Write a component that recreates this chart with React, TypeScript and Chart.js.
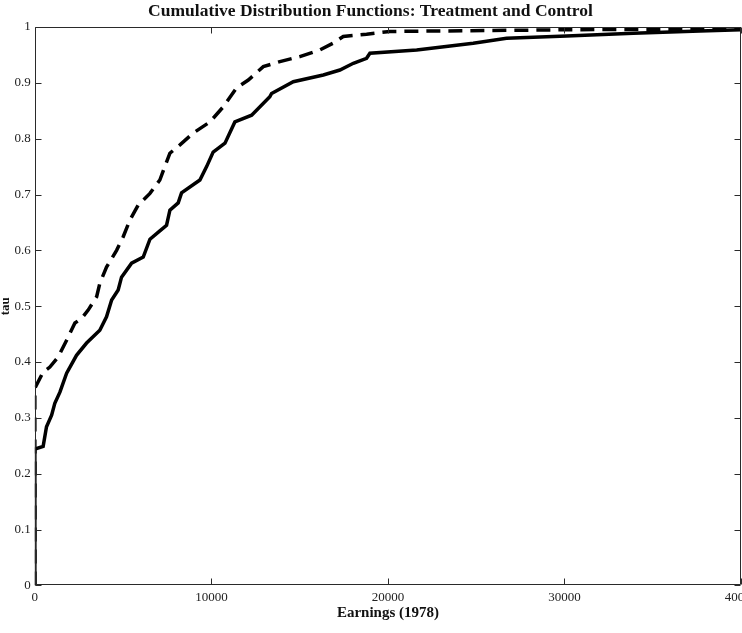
import { useEffect, useRef } from 'react';
import { Chart, registerables } from 'chart.js';

Chart.register(...registerables);

const SERIF = '"Liberation Serif", "Times New Roman", Times, serif';

const TITLE = 'Cumulative Distribution Functions: Treatment and Control';
const X_LABEL = 'Earnings (1978)';
const Y_LABEL = 'tau';

const xTickValues = [0, 10000, 20000, 30000, 40000];
const yTickValues = [0, 0.1, 0.2, 0.3, 0.4, 0.5, 0.6, 0.7, 0.8, 0.9, 1];

// Empirical CDF of 1978 earnings, treatment group (solid line)
const treatmentEarnings = [
  0, 0, 470, 660, 950, 1130, 1420, 1800, 2360, 2930, 3680, 4060, 4350, 4720, 4910,
  5480, 6140, 6520, 7080, 7460, 7650, 8120, 8310, 9350, 9730, 10100, 10770, 11330,
  12280, 13310, 13410, 14640, 16340, 17280, 18040, 18790, 18980, 21630, 24830,
  26720, 30120, 33900, 37680, 40000,
];
const treatmentTau = [
  0, 0.244, 0.249, 0.284, 0.305, 0.326, 0.346, 0.38, 0.412, 0.434, 0.457, 0.481,
  0.511, 0.529, 0.552, 0.577, 0.588, 0.62, 0.635, 0.645, 0.672, 0.685, 0.703, 0.726,
  0.75, 0.776, 0.792, 0.83, 0.842, 0.875, 0.881, 0.902, 0.914, 0.923, 0.935, 0.944,
  0.953, 0.959, 0.971, 0.98, 0.984, 0.989, 0.993, 0.995,
];

// Empirical CDF of 1978 earnings, control group (dashed line)
const controlEarnings = [
  0, 0, 470, 850, 1320, 1800, 2270, 2650, 3020, 3500, 3680, 4060, 4630, 5000, 5380,
  5850, 6520, 7080, 7650, 8220, 8970, 9920, 10670, 11430, 12090, 12940, 13880,
  15010, 16150, 16900, 17470, 18790, 20110, 30120, 40000,
];
const controlTau = [
  0, 0.353, 0.382, 0.391, 0.409, 0.439, 0.47, 0.478, 0.493, 0.517, 0.541, 0.57, 0.6,
  0.624, 0.654, 0.681, 0.702, 0.726, 0.774, 0.789, 0.81, 0.83, 0.857, 0.891, 0.905,
  0.929, 0.938, 0.947, 0.959, 0.971, 0.983, 0.987, 0.992, 0.995, 0.997,
];

const toPoints = (xs: number[], ys: number[]) => xs.map((x, i) => ({ x, y: ys[i] }));

// Box frame with short inward tick marks on all four sides
const boxTicks = {
  id: 'boxTicks',
  afterDatasetsDraw(chart: any) {
    const { ctx, chartArea: a, scales } = chart;
    const len = 6;
    const l = Math.round(a.left) + 0.5;
    const r = Math.round(a.right) - 0.5;
    const t = Math.round(a.top) + 0.5;
    const b = Math.round(a.bottom) - 0.5;
    ctx.save();
    ctx.strokeStyle = '#2a2a2a';
    ctx.lineWidth = 1;
    ctx.beginPath();
    ctx.rect(l, t, r - l, b - t);
    for (const tick of scales.x.ticks) {
      const px = Math.round(scales.x.getPixelForValue(tick.value)) + 0.5;
      ctx.moveTo(px, b);
      ctx.lineTo(px, b - len);
      ctx.moveTo(px, t);
      ctx.lineTo(px, t + len);
    }
    for (const tick of scales.y.ticks) {
      const py = Math.round(scales.y.getPixelForValue(tick.value)) + 0.5;
      ctx.moveTo(l, py);
      ctx.lineTo(l + len, py);
      ctx.moveTo(r, py);
      ctx.lineTo(r - len, py);
    }
    ctx.stroke();
    ctx.restore();
  },
};

export default function App() {
  const canvasRef = useRef<HTMLCanvasElement | null>(null);

  useEffect(() => {
    const canvas = canvasRef.current;
    if (!canvas) return;
    const chart = new Chart(canvas, {
      type: 'line',
      data: {
        datasets: [
          {
            label: 'Treatment',
            data: toPoints(treatmentEarnings, treatmentTau),
            borderColor: '#000',
            borderWidth: 3.5,
            pointRadius: 0,
            tension: 0,
            fill: false,
          },
          {
            label: 'Control',
            data: toPoints(controlEarnings, controlTau),
            borderColor: '#000',
            borderWidth: 3.5,
            borderDash: [14, 8],
            pointRadius: 0,
            tension: 0,
            fill: false,
          },
        ],
      },
      options: {
        animation: false,
        responsive: false,
        devicePixelRatio: 1,
        layout: { padding: { left: 0, right: 11, top: 0, bottom: 8 } },
        plugins: {
          legend: { display: false },
          tooltip: { enabled: false },
          title: {
            display: true,
            text: TITLE,
            color: '#111',
            font: { family: SERIF, size: 17.5, weight: 'bold' },
            padding: { top: 1, bottom: 5 },
          },
        },
        scales: {
          x: {
            type: 'linear',
            min: 0,
            max: 40000,
            afterBuildTicks: (scale: any) => {
              scale.ticks = xTickValues.map((value) => ({ value }));
            },
            afterFit: (scale: any) => {
              scale.paddingRight = 0;
              scale.paddingLeft = 0;
            },
            grid: { display: false, drawTicks: false },
            border: { display: false },
            ticks: {
              color: '#222',
              padding: 4,
              maxRotation: 0,
              autoSkip: false,
              font: { family: SERIF, size: 13 },
              callback: (v: any) => String(v),
            },
            title: {
              display: true,
              text: X_LABEL,
              color: '#111',
              font: { family: SERIF, size: 15, weight: 'bold' },
              padding: { top: -5, bottom: 3 },
            },
          },
          y: {
            type: 'linear',
            min: 0,
            max: 1,
            afterBuildTicks: (scale: any) => {
              scale.ticks = yTickValues.map((value) => ({ value }));
            },
            grid: { display: false, drawTicks: false },
            border: { display: false },
            ticks: {
              color: '#222',
              padding: 4,
              autoSkip: false,
              font: { family: SERIF, size: 13 },
              callback: (v: any) => String(Math.round(Number(v) * 10) / 10),
            },
            title: {
              display: true,
              text: Y_LABEL,
              color: '#111',
              font: { family: SERIF, size: 13, weight: 'bold' },
              padding: { top: -2, bottom: -3 },
            },
          },
        },
      },
      plugins: [boxTicks],
    });
    return () => chart.destroy();
  }, []);

  return (
    <div
      style={{
        position: 'fixed',
        left: 0,
        top: 0,
        width: 742,
        height: 633,
        overflow: 'hidden',
        background: '#fff',
      }}
    >
      <canvas ref={canvasRef} width={752} height={633} style={{ display: 'block' }} />
    </div>
  );
}
